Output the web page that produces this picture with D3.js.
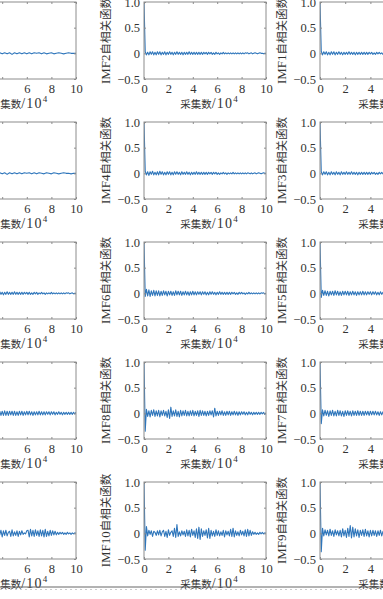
<!DOCTYPE html>
<html><head><meta charset="utf-8">
<script src="https://cdn.jsdelivr.net/npm/d3@7"></script>
<style>html,body{margin:0;padding:0;background:#fff;overflow:hidden}</style>
</head><body>
<svg id="c" width="383" height="599"></svg>
<script>
// ---- data (lag axis in units of 10^4 samples, values = autocorrelation) ----
const xTicks = [0, 2, 4, 6, 8, 10];
const yTicks = [-0.5, 0, 0.5, 1.0];
const yTickLabels = ["\u22120.5", "0", "0.5", "1.0"];
const xLabelText = "采集数";
const xLabelUnit = "/10";
const xLabelSup = "4";
const yLabelSuffix = "自相关函数";
const panelNames = [
  [null, "IMF2", "IMF1"],
  [null, "IMF4", "IMF3"],
  [null, "IMF6", "IMF5"],
  [null, "IMF8", "IMF7"],
  [null, "IMF10", "IMF9"]
];

const L1 = [1,0.02,-0.02,0.02,-0.01,0.02,-0.02,0.01,-0.01,0.02,-0.01,0.01,-0.02,0.01,-0.01,0.01,-0.01,0.02,-0.01,0.01,-0.01,0.01,-0.01,0.01,-0.02,0.01,-0.01,0.01,-0.01,0.01,-0.01,0.01,-0.01,0.01,0,0.01,-0.01,0.01,-0.01,0,0.01,-0.01,0,0.01,0,-0.01,0,0.01,0,0,0];
const IMF2 = [1,
0.03,-0.03,0.02,-0.03,0.03,-0.02,0.03,-0.03,0.02,-0.03,
0.03,-0.02,0.03,-0.03,0.02,-0.02,0.03,-0.03,0.02,-0.02,
0.03,-0.02,0.02,-0.03,0.02,-0.02,0.03,-0.02,0.02,-0.02,
0.02,-0.03,0.02,-0.02,0.02,-0.02,0.03,-0.02,0.02,-0.02,
0.02,-0.02,0.02,-0.02,0.02,-0.02,0.02,-0.02,0.02,-0.01,
0.02,-0.02,0.02,-0.01,0.02,-0.02,0.01,-0.02,0.02,-0.01,
0.01,-0.02,0.01,-0.01,0.02,-0.01,0.01,-0.01,0.01,-0.01,
0.01,-0.01,0.01,-0.01,0.01,-0.01,0.01,-0.01,0.01,-0.01,
0.01,-0.01,0.01,0,0.01,-0.01,0,0.01,-0.01,0,
0.01,0,-0.01,0,0.01,0,0,-0.01,0,0];
const IMF1 = [1,
0.04,-0.03,0.03,-0.02,0.03,-0.03,0.02,-0.03,0.03,-0.02,
0.03,-0.03,0.02,-0.02,0.03,-0.02,0.02,-0.03,0.02,-0.02,
0.02,-0.02,0.03,-0.02,0.02,-0.02,0.02,-0.03,0.02,-0.02,
0.02,-0.02,0.02,-0.02,0.02,-0.02,0.02,-0.02,0.02,-0.01,
0.02,-0.02,0.01,-0.02,0.02,-0.01,0.02,-0.01,0.01,-0.02,
0.01,-0.01,0.02,-0.01,0.01,-0.01,0.01,-0.01,0.01,-0.01,
0.01,-0.01,0.01,-0.01,0.01,-0.01,0.01,-0.01,0.01,-0.01,
0.01,-0.01,0.01,0,0.01,-0.01,0.01,0,-0.01,0.01,
0,-0.01,0.01,0,-0.01,0,0.01,0,-0.01,0,
0.01,0,0,-0.01,0,0.01,0,0,0,0];
const L2 = [1,0.02,-0.01,0.02,-0.02,0.01,-0.01,0.02,-0.01,0.01,-0.02,0.01,-0.01,0.01,-0.01,0.02,-0.01,0.01,-0.01,0.01,-0.01,0.01,-0.02,0.01,-0.01,0.01,-0.01,0.01,-0.01,0.01,0,0.01,-0.01,0.01,-0.01,0.01,0,-0.01,0.01,0,-0.01,0.01,0,-0.01,0,0.01,0,0,-0.01,0,0];
const IMF4 = [1,
0.04,-0.03,0.03,-0.04,0.03,-0.02,0.04,-0.03,0.02,-0.03,
0.03,-0.03,0.04,-0.02,0.03,-0.03,0.02,-0.03,0.03,-0.02,
0.03,-0.03,0.02,-0.03,0.03,-0.02,0.03,-0.02,0.02,-0.03,
0.03,-0.02,0.02,-0.02,0.03,-0.02,0.02,-0.03,0.02,-0.02,
0.02,-0.02,0.03,-0.02,0.02,-0.02,0.02,-0.02,0.02,-0.02,
0.02,-0.02,0.02,-0.01,0.02,-0.02,0.02,-0.01,0.02,-0.02,
0.01,-0.02,0.01,-0.01,0.02,-0.01,0.01,-0.02,0.01,-0.01,
0.01,-0.01,0.02,-0.01,0.01,-0.01,0.01,-0.01,0.01,-0.01,
0.01,-0.01,0.01,-0.01,0.01,0,-0.01,0.01,-0.01,0,
0.01,-0.01,0,0.01,0,-0.01,0,0.01,0,0];
const IMF3 = [1,
0.03,-0.03,0.03,-0.02,0.03,-0.03,0.02,-0.03,0.03,-0.02,
0.02,-0.03,0.03,-0.02,0.02,-0.03,0.03,-0.02,0.02,-0.02,
0.03,-0.02,0.02,-0.02,0.03,-0.02,0.02,-0.02,0.02,-0.03,
0.02,-0.02,0.02,-0.02,0.02,-0.02,0.02,-0.02,0.02,-0.02,
0.02,-0.01,0.02,-0.02,0.01,-0.02,0.02,-0.01,0.02,-0.01,
0.01,-0.02,0.01,-0.01,0.02,-0.01,0.01,-0.01,0.01,-0.01,
0.01,-0.01,0.01,-0.01,0.01,-0.01,0.01,-0.01,0.01,-0.01,
0.01,-0.01,0.01,-0.01,0.01,0,-0.01,0.01,-0.01,0,
0.01,-0.01,0,0.01,-0.01,0,0.01,0,-0.01,0,
0.01,0,-0.01,0,0,0.01,0,-0.01,0,0];
const L3 = [1,
-0.05,0.05,-0.04,0.04,-0.03,0.05,-0.04,0.03,-0.04,0.04,
-0.03,0.04,-0.03,0.03,-0.04,0.03,-0.03,0.04,-0.03,0.03,
-0.03,0.03,-0.02,0.03,-0.03,0.03,-0.03,0.02,-0.03,0.03,
-0.02,0.03,-0.03,0.02,-0.02,0.03,-0.02,0.03,-0.02,0.02,
-0.03,0.02,-0.02,0.03,-0.02,0.02,-0.02,0.02,-0.02,0.03,
-0.02,0.02,-0.02,0.02,-0.02,0.02,-0.02,0.02,-0.01,0.02,
-0.02,0.02,-0.02,0.01,-0.02,0.02,-0.01,0.02,-0.02,0.01,
-0.01,0.02,-0.01,0.01,-0.02,0.01,-0.01,0.01,-0.01,0.02,
-0.01,0.01,-0.01,0.01,-0.01,0.01,-0.01,0.01,-0.01,0.01,
-0.01,0.01,0,0.01,-0.01,0,0.01,-0.01,0,0];
const IMF6 = [1,
-0.06,0.08,-0.05,0.07,-0.06,0.05,-0.04,0.06,-0.05,0.05,
-0.04,0.05,-0.05,0.04,-0.04,0.05,-0.03,0.04,-0.05,0.04,
-0.03,0.04,-0.04,0.03,-0.04,0.05,-0.03,0.04,-0.03,0.04,
-0.04,0.03,-0.03,0.04,-0.03,0.03,-0.04,0.03,-0.03,0.04,
-0.03,0.03,-0.03,0.03,-0.02,0.03,-0.03,0.03,-0.02,0.03,
-0.03,0.02,-0.03,0.03,-0.02,0.03,-0.02,0.02,-0.03,0.02,
-0.02,0.03,-0.02,0.02,-0.02,0.02,-0.02,0.02,-0.02,0.02,
-0.02,0.02,-0.01,0.02,-0.02,0.01,-0.02,0.02,-0.01,0.02,
-0.01,0.01,-0.02,0.01,-0.01,0.02,-0.01,0.01,-0.01,0.01,
-0.01,0.01,-0.01,0.01,-0.01,0.01,0,0.01,-0.01,0];
const IMF5 = [1,
-0.08,0.06,-0.04,0.05,-0.04,0.04,-0.05,0.04,-0.03,0.04,
-0.04,0.05,-0.03,0.04,-0.04,0.03,-0.04,0.04,-0.03,0.04,
-0.03,0.04,-0.04,0.03,-0.03,0.04,-0.03,0.03,-0.04,0.03,
-0.03,0.03,-0.03,0.04,-0.03,0.03,-0.03,0.03,-0.02,0.03,
-0.03,0.03,-0.02,0.03,-0.03,0.02,-0.03,0.03,-0.02,0.02,
-0.02,0.03,-0.02,0.02,-0.02,0.02,-0.02,0.02,-0.02,0.02,
-0.02,0.02,-0.02,0.02,-0.01,0.02,-0.02,0.01,-0.02,0.02,
-0.01,0.02,-0.01,0.01,-0.02,0.01,-0.01,0.01,-0.01,0.01,
-0.01,0.01,-0.01,0.01,-0.01,0.01,-0.01,0.01,0,0.01,
-0.01,0,0.01,-0.01,0,0.01,0,-0.01,0,0];
const L4 = [1,
-0.12,0.07,-0.05,0.06,-0.06,0.05,-0.05,0.06,-0.04,0.05,
-0.06,0.05,-0.04,0.06,-0.05,0.04,-0.05,0.05,-0.04,0.06,
-0.05,0.04,-0.05,0.05,-0.04,0.05,-0.05,0.04,-0.04,0.05,
-0.05,0.04,-0.04,0.05,-0.04,0.04,-0.05,0.04,-0.04,0.04,
-0.04,0.05,-0.04,0.04,-0.04,0.04,-0.03,0.04,-0.04,0.04,
-0.04,0.03,-0.04,0.04,-0.03,0.04,-0.04,0.03,-0.03,0.04,
-0.03,0.04,-0.03,0.03,-0.04,0.03,-0.03,0.03,-0.03,0.04,
-0.03,0.03,-0.03,0.03,-0.03,0.03,-0.02,0.03,-0.03,0.03,
-0.02,0.03,-0.03,0.02,-0.02,0.03,-0.02,0.02,-0.03,0.02,
-0.02,0.02,-0.02,0.02,-0.02,0.02,-0.02,0.02,-0.01,0.02];
const IMF8 = [1,
-0.35,0.08,-0.06,0.05,-0.07,0.06,-0.04,0.07,-0.06,0.05,
-0.05,0.06,-0.07,0.05,-0.04,0.06,-0.05,0.04,-0.08,0.07,
-0.1,0.12,-0.06,0.05,-0.05,0.07,-0.06,0.04,-0.07,0.06,
-0.05,0.05,-0.04,0.06,-0.05,0.04,-0.05,0.05,-0.04,0.06,
-0.05,0.04,-0.04,0.05,-0.06,0.06,-0.04,0.05,-0.04,0.04,
-0.05,0.04,-0.04,0.05,-0.03,0.05,-0.07,0.1,-0.05,0.04,
-0.04,0.04,-0.03,0.05,-0.04,0.03,-0.04,0.04,-0.03,0.04,
-0.04,0.03,-0.03,0.04,-0.03,0.03,-0.04,0.03,-0.03,0.03,
-0.02,0.03,-0.03,0.02,-0.03,0.03,-0.02,0.02,-0.03,0.02,
-0.02,0.02,-0.02,0.02,-0.02,0.02,-0.01,0.02,-0.02,0.01];
const IMF7 = [1,
-0.2,0.07,-0.05,0.06,-0.04,0.05,-0.06,0.05,-0.04,0.06,
-0.05,0.04,-0.05,0.06,-0.04,0.05,-0.05,0.04,-0.06,0.05,
-0.04,0.05,-0.04,0.04,-0.05,0.05,-0.04,0.04,-0.04,0.05,
-0.04,0.04,-0.04,0.04,-0.04,0.04,-0.03,0.04,-0.04,0.04,
-0.03,0.04,-0.03,0.04,-0.03,0.03,-0.04,0.03,-0.03,0.03,
-0.03,0.03,-0.03,0.03,-0.02,0.03,-0.03,0.02,-0.03,0.03,
-0.02,0.03,-0.02,0.02,-0.02,0.03,-0.02,0.02,-0.02,0.02,
-0.02,0.02,-0.02,0.02,-0.01,0.02,-0.02,0.01,-0.02,0.02,
-0.01,0.02,-0.01,0.01,-0.01,0.02,-0.01,0.01,-0.01,0.01,
-0.01,0.01,-0.01,0.01,0,0.01,-0.01,0.01,0,0];
const L5 = [1,
-0.3,0.09,-0.04,0.06,-0.05,0.03,0.05,-0.06,0.07,-0.03,
0.05,-0.07,0.06,-0.02,0.04,-0.06,0.05,-0.04,0.07,-0.05,
0.03,-0.06,0.08,-0.04,0.05,-0.07,0.06,-0.03,0.05,-0.05,
0.06,-0.04,0.03,-0.06,0.07,-0.05,0.04,-0.03,0.06,-0.07,
0.05,-0.04,0.06,-0.05,0.02,0.04,-0.06,0.07,-0.05,0.03,
-0.04,0.05,-0.06,0.04,-0.03,0.05,-0.02,0.01,-0.01,0.05,
0.06,-0.07,0.08,-0.05,0.06,-0.06,0.07,-0.04,0.05,-0.06,
0.07,-0.05,0.06,-0.07,0.08,-0.06,0.04,-0.05,0.06,-0.04,
0.05,-0.03,0.04,-0.03,0.02,-0.02,0.02,-0.01,0.02,-0.02,
0.01,-0.02,0.02,-0.01,0.01,-0.02,0.01,-0.01,0.01,0];
const IMF10 = [1,
-0.33,0.13,-0.05,0.06,-0.02,0.05,-0.06,0.04,0.02,-0.04,
0.05,-0.03,0.06,-0.05,0.03,0.06,-0.06,0.04,-0.08,0.07,
-0.04,0.02,0.05,-0.06,0.1,-0.08,0.17,-0.06,0.03,-0.05,
0.05,-0.03,0.04,-0.06,0.07,-0.05,0.06,-0.07,0.08,-0.04,
0.05,-0.08,0.09,-0.1,0.12,-0.12,0.09,-0.06,0.05,-0.04,
0.07,-0.09,0.1,-0.1,0.06,-0.05,0.04,-0.06,0.07,-0.04,
0.05,-0.05,0.03,-0.04,0.06,-0.07,0.05,-0.03,0.04,-0.05,
0.08,-0.06,0.1,-0.07,0.05,-0.04,0.03,-0.05,0.06,-0.03,
0.04,-0.05,0.07,-0.06,0.08,-0.05,0.06,-0.04,0.03,-0.02,
0.02,-0.02,0.01,-0.02,0.02,-0.01,0.02,-0.01,0.01,0];
const IMF9 = [1,
-0.36,0.1,-0.05,0.07,-0.03,0.06,-0.05,0.08,-0.04,0.05,
-0.06,0.07,-0.03,0.05,-0.05,0.06,-0.07,0.09,-0.05,0.06,
-0.08,0.1,-0.06,0.15,-0.09,0.12,-0.07,0.09,-0.05,0.07,
-0.08,0.06,-0.04,0.07,-0.06,0.08,-0.05,0.05,-0.07,0.06,
-0.05,0.06,-0.04,0.05,-0.06,0.05,-0.04,0.06,-0.05,0.04,
-0.05,0.04,-0.03,0.05,-0.04,0.04,-0.05,0.03,-0.04,0.04,
-0.03,0.04,-0.04,0.03,-0.03,0.04,-0.03,0.03,-0.04,0.03,
-0.03,0.03,-0.02,0.03,-0.03,0.02,-0.03,0.02,-0.02,0.03,
-0.02,0.02,-0.02,0.02,-0.02,0.01,-0.02,0.02,-0.01,0.01,
-0.01,0.01,-0.01,0.01,-0.01,0.01,0,0.01,-0.01,0];

const panelData = [
  [L1, IMF2, IMF1],
  [L2, IMF4, IMF3],
  [L3, IMF6, IMF5],
  [L4, IMF8, IMF7],
  [L5, IMF10, IMF9]
];

// ---- layout ----
// left column is cropped by the page edge: only its right part is visible
const cols = [
  {left: -47, width: 123, minLabel: 6, yLabels: false},
  {left: 144, width: 122, minLabel: 0, yLabels: true},
  {left: 320, width: 126, minLabel: 0, yLabels: true}
];
const rowTop = [2, 122, 242, 362, 482];
const H = 77;
const lineColor = "#2f76bb";
const frameColor = "#8c8c8c";
const textColor = "#333";
const serif = "'Liberation Serif','Times New Roman',serif";
const cjk = "'Noto Sans CJK SC','Noto Sans CJK JP',sans-serif";

const svg = d3.select("#c");
svg.append("rect").attr("width", 383).attr("height", 599).attr("fill", "#fff");
const defs = svg.append("defs");

panelData.forEach((row, r) => {
  row.forEach((vals, c) => {
    const col = cols[c];
    const g = svg.append("g").attr("transform", `translate(${col.left},${rowTop[r]})`);
    const x = d3.scaleLinear().domain([0, 10]).range([0, col.width]);
    const y = d3.scaleLinear().domain([-0.5, 1]).range([H, 0]);
    const id = `clip${r}_${c}`;
    defs.append("clipPath").attr("id", id).append("rect")
      .attr("x", 0).attr("y", 0).attr("width", col.width).attr("height", H);

    // data line
    const n = vals.length;
    const line = d3.line().x((d, i) => x(i * 10 / (n - 1))).y(d => y(d));
    g.append("path").datum(vals).attr("d", line)
      .attr("fill", "none").attr("stroke", lineColor).attr("stroke-width", 1.1)
      .attr("stroke-linejoin", "round")
      .attr("clip-path", `url(#${id})`);

    // axes
    const fmtX = d => (d >= col.minLabel ? String(d) : "");
    g.append("g").attr("transform", `translate(0,${H})`)
      .call(d3.axisBottom(x).tickValues(xTicks).tickFormat(fmtX).tickSize(-2).tickPadding(5));
    g.append("g").call(d3.axisTop(x).tickValues(xTicks).tickFormat("").tickSize(-2));
    g.append("g")
      .call(d3.axisLeft(y).tickValues(yTicks)
        .tickFormat((d, i) => col.yLabels ? yTickLabels[i] : "").tickSize(-2).tickPadding(4));
    g.append("g").attr("transform", `translate(${col.width},0)`)
      .call(d3.axisRight(y).tickValues(yTicks).tickFormat("").tickSize(-2));
    g.selectAll(".domain").remove();
    g.selectAll(".tick line").attr("stroke", frameColor);
    g.selectAll(".tick text").attr("fill", textColor)
      .style("font-family", serif).style("font-size", "12.5px");

    g.append("rect").attr("x", 0).attr("y", 0).attr("width", col.width).attr("height", H)
      .attr("fill", "none").attr("stroke", frameColor).attr("stroke-width", 1);

    // x label
    const xl = g.append("text").attr("x", col.width / 2 + 4).attr("y", H + 29)
      .attr("text-anchor", "middle").attr("fill", textColor);
    xl.append("tspan").style("font-family", cjk).style("font-size", "10.5px").text(xLabelText);
    xl.append("tspan").style("font-family", serif).style("font-size", "14px")
      .style("letter-spacing", "1.2px").text(xLabelUnit);
    xl.append("tspan").style("font-family", serif).style("font-size", "9px").attr("dy", -6).text(xLabelSup);

    // y label
    const name = panelNames[r][c];
    if (name) {
      const yl = g.append("text")
        .attr("transform", `translate(-34,${H / 2}) rotate(-90)`)
        .attr("text-anchor", "middle").attr("fill", textColor);
      yl.append("tspan").style("font-family", serif).style("font-size", "13px").text(name);
      yl.append("tspan").style("font-family", cjk).style("font-size", "11.5px").text(yLabelSuffix);
    }
  });
});

// page edge rule at the bottom of the scan
svg.append("line").attr("x1", 0).attr("x2", 383).attr("y1", 587).attr("y2", 587)
  .attr("stroke", "#666").attr("stroke-width", 1);
svg.append("line").attr("x1", 0).attr("x2", 383).attr("y1", 589.5).attr("y2", 589.5)
  .attr("stroke", "#ccc").attr("stroke-width", 1).attr("stroke-dasharray", "2,3");
</script>
</body></html>
